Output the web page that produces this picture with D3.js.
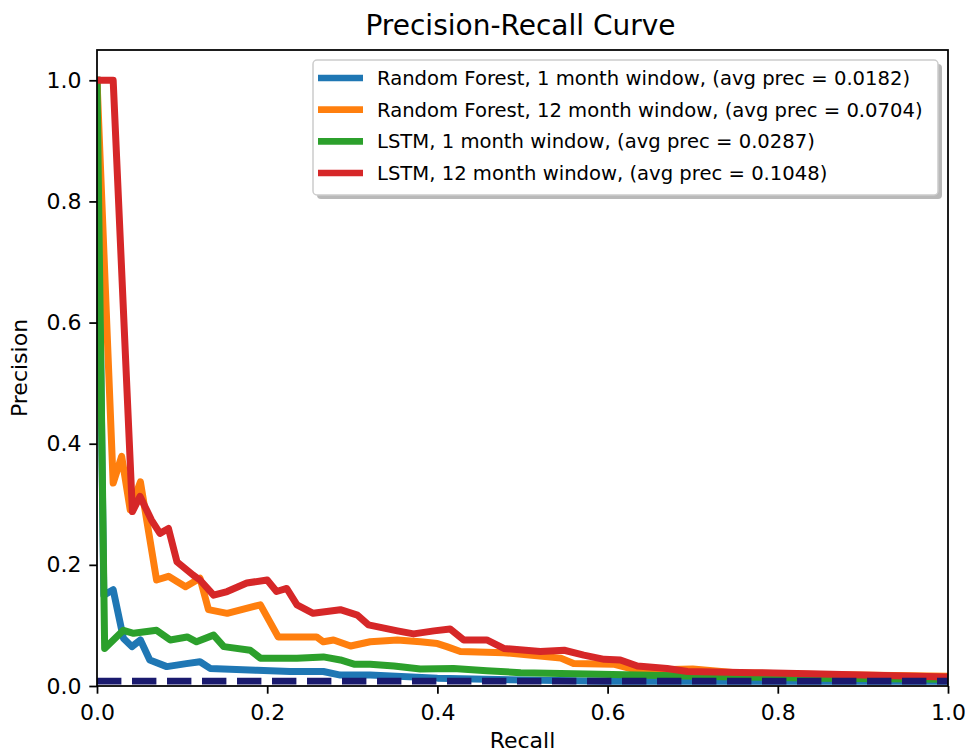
<!DOCTYPE html>
<html>
<head>
<meta charset="utf-8">
<script src="https://cdn.jsdelivr.net/npm/d3@7"></script>
<style>
  html, body { margin: 0; padding: 0; background: #fff; }
  svg { display: block; font-family: "DejaVu Sans", sans-serif; }
</style>
</head>
<body>
<svg id="chart" width="965" height="753"></svg>
<script>
// Precision-recall curves for the four models
const seriesNames = [
  "Random Forest, 1 month window, (avg prec = 0.0182)",
  "Random Forest, 12 month window, (avg prec = 0.0704)",
  "LSTM, 1 month window, (avg prec = 0.0287)",
  "LSTM, 12 month window, (avg prec = 0.1048)"
];
const seriesColors = ["#1f77b4", "#ff7f0e", "#2ca02c", "#d62728"];

const rf1Recall = [0, 0.008, 0.019, 0.031, 0.041, 0.051, 0.062, 0.082, 0.105, 0.121, 0.133, 0.188, 0.227, 0.266, 0.286, 0.321, 0.40, 0.50, 0.60, 1.0];
const rf1Precision = [1.0, 0.150, 0.159, 0.079, 0.065, 0.076, 0.043, 0.032, 0.037, 0.040, 0.029, 0.026, 0.024, 0.024, 0.018, 0.018, 0.013, 0.010, 0.008, 0.008];

const rf12Recall = [0, 0.019, 0.029, 0.039, 0.051, 0.070, 0.084, 0.104, 0.121, 0.131, 0.153, 0.192, 0.213, 0.258, 0.266, 0.278, 0.298, 0.321, 0.353, 0.38, 0.40, 0.411, 0.427, 0.478, 0.545, 0.560, 0.607, 0.635, 0.70, 0.75, 0.85, 1.0];
const rf12Precision = [1.0, 0.335, 0.379, 0.291, 0.337, 0.175, 0.181, 0.164, 0.178, 0.126, 0.120, 0.134, 0.081, 0.081, 0.073, 0.076, 0.066, 0.073, 0.076, 0.073, 0.070, 0.065, 0.057, 0.055, 0.046, 0.037, 0.036, 0.026, 0.028, 0.022, 0.019, 0.016];

const lstm1Recall = [0, 0.009, 0.031, 0.043, 0.070, 0.086, 0.106, 0.117, 0.137, 0.149, 0.18, 0.192, 0.235, 0.266, 0.286, 0.302, 0.321, 0.349, 0.38, 0.419, 0.458, 0.498, 0.576, 0.635, 0.75, 0.85, 1.0];
const lstm1Precision = [1.0, 0.062, 0.092, 0.087, 0.092, 0.076, 0.081, 0.073, 0.084, 0.065, 0.059, 0.046, 0.046, 0.048, 0.043, 0.036, 0.036, 0.033, 0.028, 0.029, 0.025, 0.022, 0.020, 0.018, 0.015, 0.013, 0.011];

const lstm12Recall = [0, 0.019, 0.0416, 0.0506, 0.064, 0.074, 0.084, 0.094, 0.113, 0.121, 0.137, 0.153, 0.176, 0.2, 0.211, 0.223, 0.235, 0.254, 0.286, 0.306, 0.319, 0.353, 0.372, 0.396, 0.415, 0.431, 0.458, 0.478, 0.521, 0.549, 0.572, 0.596, 0.615, 0.635, 0.670, 0.694, 0.772, 0.85, 1.0];
const lstm12Precision = [1.0, 1.0, 0.288, 0.313, 0.274, 0.252, 0.260, 0.205, 0.183, 0.175, 0.150, 0.156, 0.170, 0.175, 0.156, 0.161, 0.134, 0.120, 0.126, 0.117, 0.101, 0.091, 0.086, 0.091, 0.094, 0.076, 0.076, 0.062, 0.057, 0.059, 0.051, 0.044, 0.043, 0.033, 0.029, 0.024, 0.022, 0.020, 0.015];

// No-skill baseline (positive class rate)
const baselinePrecision = 0.008;

const xTicks = [0, 0.2, 0.4, 0.6, 0.8, 1.0];
const yTicks = [0, 0.2, 0.4, 0.6, 0.8, 1.0];

const seriesRecall = [rf1Recall, rf12Recall, lstm1Recall, lstm12Recall];
const seriesPrecision = [rf1Precision, rf12Precision, lstm1Precision, lstm12Precision];

const margin = { left: 97, right: 17, top: 50, bottom: 67 };
const W = 965, H = 753;
const iw = W - margin.left - margin.right;
const ih = H - margin.top - margin.bottom;

const svg = d3.select("#chart");
const g = svg.append("g").attr("transform", `translate(${margin.left},${margin.top})`);

const x = d3.scaleLinear().domain([0, 1]).range([0, iw]);
const y = d3.scaleLinear().domain([0, 1.05]).range([ih, 0]);

svg.append("defs").append("clipPath").attr("id", "plotClip")
  .append("rect").attr("x", 0).attr("y", 0).attr("width", iw).attr("height", ih);

const lineW = 7;
const line = d3.line().x(d => x(d[0])).y(d => y(d[1]));

const plot = g.append("g").attr("clip-path", "url(#plotClip)");

seriesRecall.forEach((rec, i) => {
  const pts = rec.map((r, k) => [r, seriesPrecision[i][k]]);
  plot.append("path")
    .attr("d", line(pts))
    .attr("fill", "none")
    .attr("stroke", seriesColors[i])
    .attr("stroke-width", lineW)
    .attr("stroke-linejoin", "round")
    .attr("stroke-linecap", "square");
});

plot.append("path")
  .attr("d", line([[0, baselinePrecision], [1, baselinePrecision]]))
  .attr("fill", "none")
  .attr("stroke", "#1a1a6e")
  .attr("stroke-width", 6.6)
  .attr("stroke-dasharray", "24.4,10.6");

// Axes
const tickLen = 7.7, tickPad = 7.7;
const xAxis = g.append("g").attr("transform", `translate(0,${ih})`)
  .call(d3.axisBottom(x).tickValues(xTicks).tickFormat(d3.format(".1f"))
    .tickSize(tickLen).tickSizeOuter(0).tickPadding(tickPad));
const yAxis = g.append("g")
  .call(d3.axisLeft(y).tickValues(yTicks).tickFormat(d3.format(".1f"))
    .tickSize(tickLen).tickSizeOuter(0).tickPadding(tickPad));
[xAxis, yAxis].forEach(a => {
  a.select(".domain").remove();
  a.selectAll(".tick line").attr("stroke", "#000").attr("stroke-width", 1.76);
  a.selectAll(".tick text").attr("fill", "#000")
    .style("font-family", "'DejaVu Sans', sans-serif").style("font-size", "22px");
});
xAxis.selectAll(".tick text").attr("dy", "0.85em");

g.append("rect")
  .attr("x", 0).attr("y", 0).attr("width", iw).attr("height", ih)
  .attr("fill", "none").attr("stroke", "#000").attr("stroke-width", 1.76);

// Title and axis labels
svg.append("text")
  .attr("x", margin.left + iw / 2 - 2).attr("y", 35)
  .attr("text-anchor", "middle")
  .style("font-size", "28px").attr("fill", "#000")
  .text("Precision-Recall Curve");

svg.append("text")
  .attr("x", margin.left + iw / 2).attr("y", 748)
  .attr("text-anchor", "middle")
  .style("font-size", "22px").attr("fill", "#000")
  .text("Recall");

svg.append("text")
  .attr("transform", `translate(27,${margin.top + ih / 2}) rotate(-90)`)
  .attr("text-anchor", "middle")
  .style("font-size", "22px").attr("fill", "#000")
  .text("Precision");

// Legend
const lg = svg.append("g").attr("transform", "translate(313,60)");
const lgW = 625, lgH = 135;
lg.append("rect")
  .attr("x", 4).attr("y", 4).attr("width", lgW).attr("height", lgH).attr("rx", 4)
  .attr("fill", "#8a8a8a").attr("opacity", 0.6);
lg.append("rect")
  .attr("x", 0).attr("y", 0).attr("width", lgW).attr("height", lgH).attr("rx", 4)
  .attr("fill", "#fff").attr("stroke", "#cccccc").attr("stroke-width", 1.5);

const rowY = d3.scaleLinear().domain([0, 3]).range([18, 113]);
seriesNames.forEach((name, i) => {
  const ry = rowY(i);
  lg.append("line")
    .attr("x1", 5).attr("x2", 50).attr("y1", ry).attr("y2", ry)
    .attr("stroke", seriesColors[i]).attr("stroke-width", 6.6);
  lg.append("text")
    .attr("x", 64).attr("y", ry).attr("dy", "0.36em")
    .style("font-size", "19.6px").attr("fill", "#000")
    .text(name);
});
</script>
</body>
</html>
